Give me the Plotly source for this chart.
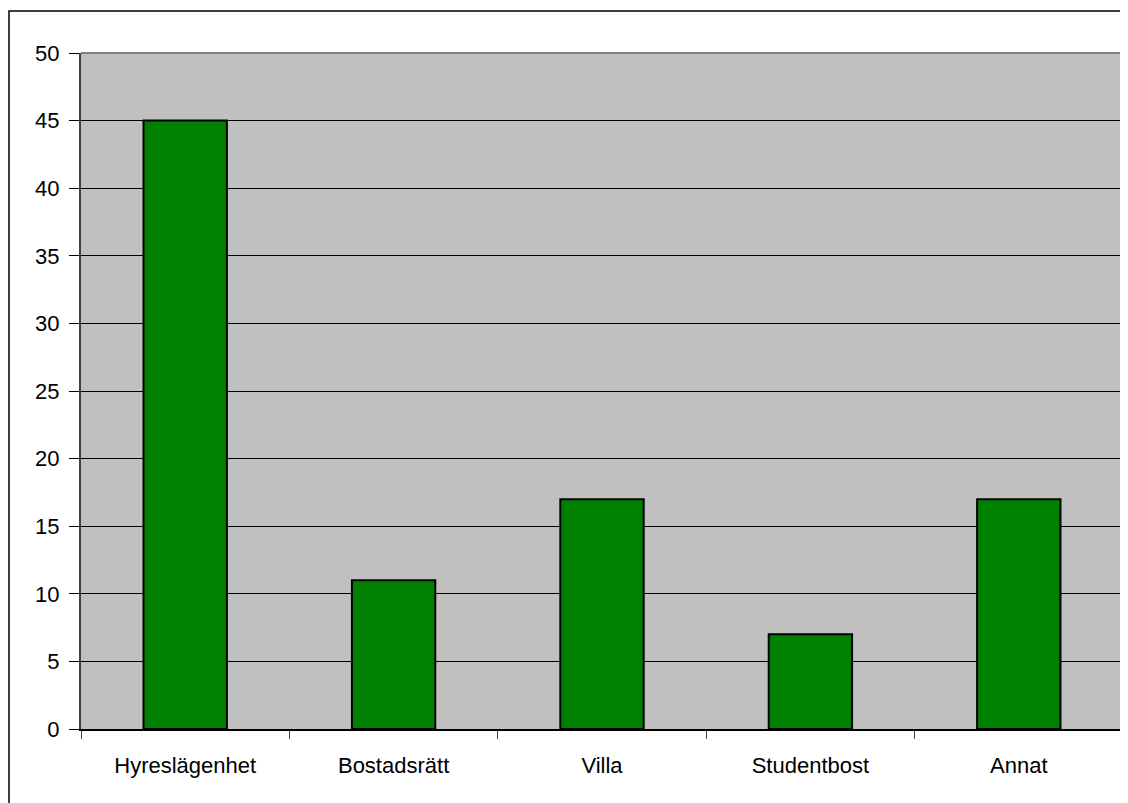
import plotly.graph_objects as go

categories = ["Hyreslägenhet", "Bostadsrätt", "Villa", "Studentbost", "Annat"]
values = [45, 11, 17, 7, 17]
y_ticks = [0, 5, 10, 15, 20, 25, 30, 35, 40, 45, 50]

FONT = "Liberation Sans, Arial, sans-serif"

fig = go.Figure(
    go.Bar(
        x=categories,
        y=values,
        marker=dict(color="#008000", line=dict(color="#000000", width=2)),
        width=0.4,
    )
)

# page body has an 8px margin, so the figure is sized and offset accordingly
fig.update_layout(
    width=1120,
    height=795,
    margin=dict(l=73, r=5, t=45, b=74),
    paper_bgcolor="#FFFFFF",
    plot_bgcolor="#C0C0C0",
    showlegend=False,
    font=dict(family=FONT, size=22, color="#000000"),
    bargap=0.6,
    shapes=[
        dict(type="path", xref="paper", yref="paper",
             path="M0,1 L1,1 L1,0", line=dict(color="#808080", width=2),
             layer="above"),
        dict(type="rect", xref="paper", yref="paper",
             x0=-0.0691, x1=1.3, y0=-0.5, y1=1.0621,
             line=dict(color="#000000", width=1.5), layer="above"),
    ],
)

fig.update_xaxes(
    type="category",
    showline=True, linecolor="#000000", linewidth=1.5,
    ticks="outside", tickson="boundaries", ticklen=8, tickcolor="#404040", tickwidth=1,
    showgrid=False, zeroline=False,
    ticklabelstandoff=16,
    tickfont=dict(family=FONT, size=22, color="#000000"),
)

fig.update_yaxes(
    range=[0, 50],
    tickvals=y_ticks,
    showline=True, linecolor="#404040", linewidth=2,
    ticks="outside", ticklen=10, tickcolor="#000000", tickwidth=1,
    showgrid=True, gridcolor="#000000", gridwidth=1,
    zeroline=False,
    ticklabelstandoff=5,
    tickfont=dict(family=FONT, size=22, color="#000000"),
)

fig.write_html("out.html")
